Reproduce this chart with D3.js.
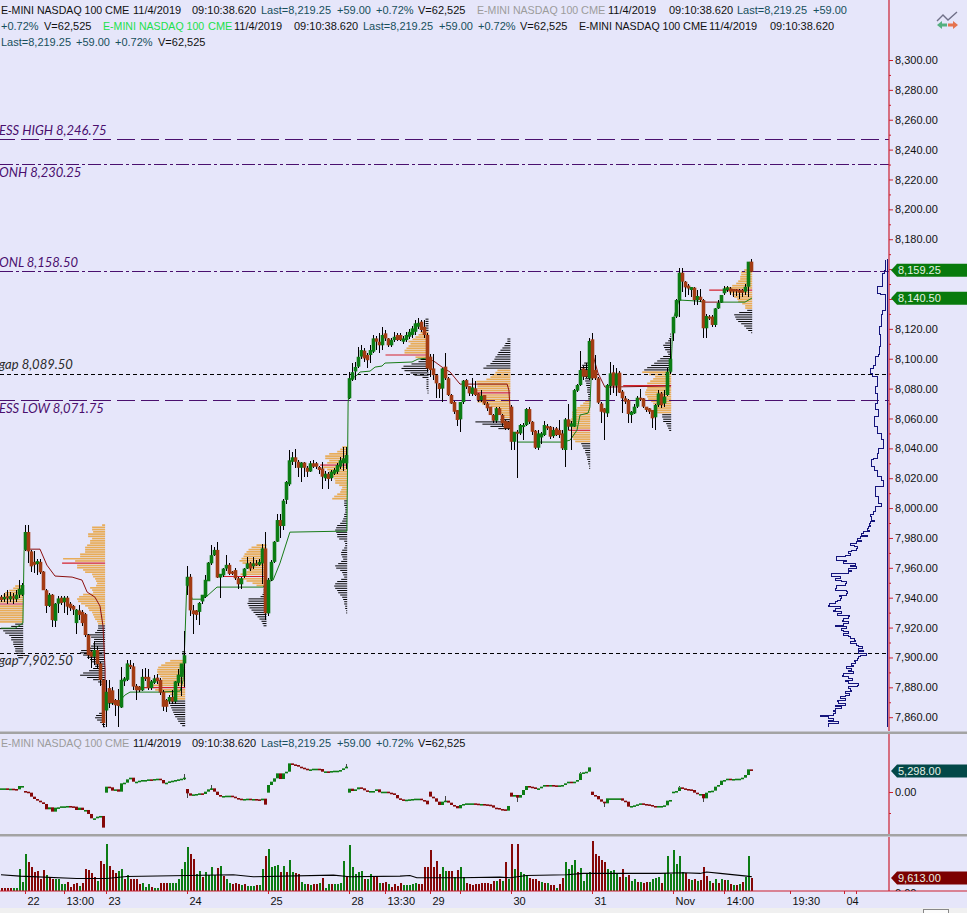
<!DOCTYPE html>
<html><head><meta charset="utf-8">
<script src="https://cdn.jsdelivr.net/npm/d3@7/dist/d3.min.js"></script>
<style>html,body{margin:0;padding:0;background:#e6e6fa;overflow:hidden}svg{display:block}
text{font-family:"Liberation Sans",Arial,sans-serif;font-size:11px}</style></head><body><svg id="c" width="967" height="913"></svg>
<script>
const opens=[7940.5,7939,7941,7939,7941,7939,7942,7942,
7972,7984,7971,7964,7962.5,7964,7957.5,7945,7934.5,7942,7924.5,7936,7940,7937,7940,7936,7934.5,7923,7931.5,7930.5,7929,7915,7904,7900.5,7905,7896,7885,
7864.5,7879.5,7878,7871.5,7871.5,7866.5,7884,7885,7895,7894,7881,7880.5,7878,7887,7887,7879.5,7883,7886.5,7885,7877,7871.5,7870.5,7873.5,7870.5,7883,7887,7896,
7948,7954,7931.5,7931.5,7930.5,7937.5,7940.5,7951,7963,7968.5,7972,7953.5,7955,7959.5,7962,7957.5,7958.5,7953,7949,7954.5,7959.5,7963,7961,7963,7962,7963,7973,
7929.5,7952,7964,7977.5,7992,7988,8005.5,8015.9,8031,8034,8031,8027,8030.5,8027,8024.5,8030,8030,8027.5,8026.5,8020,8023,8020,8023,8024.3,8027.7,8030,8030,
8073.5,8086,8091.5,8094.7,8101.4,8105.4,8102.5,8102.5,8104.7,8113.6,8111.4,8109,8117,8113.6,8109,8112.5,8115.9,8115.9,8111.4,8112.5,8114.7,8115.9,8118,8121.4,8124.8,8121.4,8115.9,
8101.4,8093.5,8089,8083.5,8080,8094.7,8086.9,8075.7,8071,8065.6,8059.4,8071,8085.7,8081.7,8076.4,8080.2,8076.8,8072.3,8075.7,8070,8067.9,8062.3,8058.5,8066.8,8062.3,8058.5,8057.8,
8067.9,8044.4,8051.1,8050,8054.5,8055.6,8066.3,8057.8,8051.8,8040.4,8047.3,8048.9,8054.9,8054.5,8048.2,8053.4,8052.3,8050,8038.9,8059.4,8054.5,8054.5,8078.6,8082.4,8093.5,8092.4,8086.9,
8113,8092.5,8086.9,8070,8066.8,8063.4,8081.7,8090.9,8081.9,8090.7,8078,8073.5,8072.4,8062.3,8063.4,8067.9,8073.9,8073.5,8067.9,8066.8,8065.7,8060.8,8069,8076.8,8070,8075.7,8091.3,
8117,8128.2,8138.9,8157.6,8151.6,8149,8146,8147.6,8139.3,8141.5,8139.3,8120.4,8128.2,8128.2,8122.6,8133.7,8137.5,8143.8,8146,8147.1,8146.7,8146.5,8146,8146,8144.9,8148.2,8165];
const highs=[7942,7943,7945,7944,7943,7945,7952,7950,
7988.5,7988.5,7972,7971,7966,7966,7958,7945.5,7943,7942.5,7936.5,7941,7941,7941,7941,7937,7935,7932.5,7935,7932,7930,7915.5,7905,7911,7908,7897,7885.5,
7885,7885,7880,7872,7879,7893.5,7887,7898.5,7898.5,7896,7882,7881,7892.5,7893,7892,7885,7888,7889,7886,7878,7872,7875,7878,7884,7892,7892,7918,
7961,7956,7935,7932,7937,7942,7955,7964,7975,7974,7977.5,7956,7960,7968.5,7963,7958,7960,7954,7954,7960,7967.5,7964,7967.5,7965,7966,7976,7984,
7953,7965,7978,7996,7996,8006,8018,8039,8037.5,8039.5,8032,8031,8031,8028,8031.5,8032,8031,8028,8031,8025,8024,8025.5,8027,8030,8034,8041,8041,
8091,8097,8098,8108,8109,8107,8104,8109,8116,8115,8117,8121,8119,8114,8114,8118,8117,8117,8115,8118,8120,8122,8126,8127,8126,8126,8117,
8103,8103,8090,8084,8093.5,8103.5,8088,8076.5,8072,8066,8071,8086,8086.5,8082,8087,8085,8077,8079,8076,8071,8068,8063,8067.9,8068,8063,8059,8058,
8069,8051,8052,8056,8057,8067,8068,8058,8052,8052,8051,8058,8056,8055,8054,8054,8059,8052,8060,8070,8058,8080,8083,8105,8095,8097,8114,
8117,8102.5,8087.5,8071,8067,8083,8098,8095.8,8094,8092,8079,8075,8073,8065,8070,8075,8080,8074,8068,8067,8066,8070,8079,8077.5,8079,8094,8113,
8128,8139.8,8161,8161,8152,8150,8148,8148,8146,8146.5,8140,8130,8129,8129,8134,8139,8143,8149,8148.5,8148,8147,8147,8147,8147,8150,8165,8167];
const lows=[7937,7937,7936,7937,7936,7937,7939.5,7941,
7971,7963,7957.5,7956.5,7955,7956,7945,7929.5,7934,7920.5,7920.5,7929.5,7935,7929.5,7928.5,7931,7928.5,7916,7925,7921,7914,7899,7893,7895,7893,7881,7853.5,
7853.5,7866,7868,7860.5,7853.5,7866,7881,7884,7892,7878.5,7871.5,7877,7877.5,7884,7878,7878,7882,7882,7875,7864,7863.5,7869,7869,7869,7881,7874,7880,
7942,7928,7916,7925,7921.5,7936,7940,7951,7962,7968,7953,7939.5,7954,7958,7955,7955,7952,7946,7946,7953,7959,7958,7959.5,7961,7961,7949.5,7925,
7928,7951,7963,7977,7980,7985,8003,8015,8029,8027,8021,8017.5,8021,8021,8024,8027,8026,8023,8013,8018,8013,8018,8022,8023,8026,8025,8026,
8073,8085,8085.5,8094,8100,8098,8094,8097,8104,8106,8103.5,8106,8112,8108,8108,8111.5,8112,8112,8110,8111,8113,8114,8116,8120,8118,8114,8091,
8088,8086,8073.5,8073.5,8071,8086,8075,8069.5,8063,8055,8051,8070,8080,8075,8075,8075,8071,8071,8069,8065,8062,8057,8057,8062,8055,8052,8052,
8038.8,8039,8020,8049,8045.5,8055,8056,8049,8039.5,8039,8043,8048,8052,8046,8047,8048,8047,8039,8027.7,8052,8038.9,8054,8078,8082,8086,8087,8086,
8086,8086,8070,8056.7,8045.6,8061,8075.7,8077,8075,8077,8063.4,8070,8056.7,8056.7,8063,8067,8072,8067,8064,8063,8053.4,8052.3,8068,8067,8068,8075,8090,
8112,8127,8128,8145,8141.6,8142.5,8141,8136,8136,8138,8113.6,8113.6,8126,8121,8121,8133,8137,8143,8145,8143,8141,8142,8140,8141.5,8143,8141.5,8158];
const closes=[7938.5,7940.5,7939.5,7941,7939.5,7942,7946,7948.5,
7984,7971,7961,7962,7964.5,7957,7945,7934.5,7942,7925,7936,7939.5,7936.5,7940,7934,7933,7932,7932,7928.5,7923,7915,7901.5,7900.5,7905,7895.5,7885,7856,
7877,7869.5,7869.5,7868,7867.5,7885,7886,7896,7894,7880.5,7878,7878,7887,7886,7879.5,7884,7886,7884,7876.5,7867,7867,7873.5,7870.5,7884,7888.5,7896,7901.5,
7954,7931.5,7929,7928.5,7936.5,7942,7952,7963.5,7968.5,7972,7953.5,7956,7959.5,7962,7956,7956,7953,7949,7953,7959.5,7963,7959.5,7963,7962,7964,7973,7929.5,
7952,7964,7977.5,7992,7988,8005,8017.5,8032,8034,8031,8027,8030.5,8027,8024.3,8030,8027.7,8027.7,8025.5,8021,8023,8019.5,8024.3,8025.5,8028.8,8032,8033.3,8035.5,
8087,8091,8094.5,8101.3,8105.8,8100.2,8099,8105.8,8113.6,8111.4,8109,8115.9,8113.6,8109,8112.5,8114.7,8112.5,8112.5,8113.6,8115.9,8118,8120.3,8123.7,8124,8119.2,8115.9,8093.5,
8092.4,8089,8083.5,8079.7,8093.5,8086.9,8075.7,8070,8064.5,8059,8071,8085.3,8081.3,8076.8,8080.8,8075.7,8072.3,8075.2,8070,8066.8,8062.3,8058.5,8066.8,8062.3,8056.7,8053.4,8053.4,
8044.4,8051.1,8050,8055.6,8055.6,8066.3,8057.8,8051.1,8040.4,8050,8050,8055.6,8053.4,8047.8,8052.3,8048.9,8048.9,8040,8059.4,8054.5,8056.7,8079,8082.4,8092.4,8088,8088,8111.9,
8086.9,8086.9,8070.6,8064.5,8063.9,8082.4,8090.2,8081.9,8090.2,8077.3,8073.5,8071.2,8063,8064.5,8067.9,8073.9,8073.5,8067.9,8065.7,8064.5,8060.1,8069,8076.8,8069,8074.6,8091.3,8100,
8128,8139.3,8157.6,8151.6,8147.8,8147,8148,8139.3,8142,8139.3,8120.4,8128.6,8127,8122.6,8133.7,8137.5,8142.7,8147.1,8147.8,8144.9,8144.9,8145,8144.2,8144.2,8148.2,8165,8158.3];

// delta pane: closes; each session's first bar opens at the listed value
const deltaCloses=[924,924,840,840,756,672,1512,1512,
84,-168,-1176,-1764,-2184,-2604,-3024,-4368,-3864,-4956,-3948,-3864,-3612,-3612,-3528,-3612,-3696,-4536,-3948,-4536,-4536,-5544,-6636,-6636,-6216,-6048,-8988,
1344,1176,336,672,84,2184,2352,3192,3612,2604,2604,2856,3024,3024,3192,3108,3276,3360,3024,2184,2352,2688,2856,3024,3192,3360,3612,
-336,-924,-588,-504,-336,-504,84,672,924,84,-756,-1176,-1008,-924,-924,-1176,-1512,-1680,-1932,-1764,-1680,-1764,-1764,-1848,-2100,-1680,-3192,
1764,2604,3444,4704,3276,4704,5124,7224,6972,6804,6384,6132,5880,5544,5712,5880,5880,5796,5124,5208,5124,5292,5376,5376,5544,5964,6384,
840,252,672,1176,924,420,252,252,252,672,-84,84,84,-168,-336,-756,-1596,-1848,-2016,-1932,-1848,-1764,-1680,-1680,-2016,-2184,-3108,
-1176,-1596,-2436,-3276,-2436,-2184,-2688,-3276,-3528,-4116,-3276,-3024,-2856,-2856,-2856,-2940,-3024,-3024,-3108,-3192,-3360,-3948,-4032,-4284,-4368,-4704,-3528,
-1176,-756,-1428,-756,504,1512,1344,1176,756,924,1344,1764,1680,1764,1680,1512,1680,1764,2184,2604,2352,2604,3024,4704,4956,5124,6216,
-756,-1008,-1848,-2436,-2856,-1596,-1596,-1596,-1596,-1596,-2184,-2436,-3696,-3528,-3360,-3108,-2856,-3024,-3108,-3276,-3528,-3864,-3528,-3528,-3360,-2184,-2016,
84,252,1176,924,756,672,504,-168,-504,-504,-1596,-168,252,336,1344,1764,2856,3024,3360,3276,3276,3360,3360,3612,4284,5712,5376];
const sessionBars=[0,8,35,62,89,116,143,170,197,224];
const sessionDeltaOpens=[924,252,-168,756,-168,-168,84,-168,84,-84];
const deltaWickBars=[61,62,70,115,148,172,193,201,226,234];
const deltaWickHighs=[4536,-336,1764,7056,-1008,-756,5124,-2856,1512,-504];
const deltaWickLows=[3000,-1596,500,6384,-2184,-2436,4704,-3864,1176,-2436];

// volume (thousands) and up/down flag of each volume bar
const volumes=[2,2,2,2,2.5,2.5,16.25,7,
27,21.25,18,13.75,15,8.75,15.5,12,10,8.75,8.75,8.75,5.5,5.5,7,3,5,6.25,3.75,6.25,16.25,15.5,13,10.5,7.5,22,20,
35,18.75,15.5,13,14.5,16.25,8.75,12,8.75,8.75,8.75,5.5,6.25,3,5,3,2.5,2,6.25,6.25,6.25,6.25,6.25,6.25,8.75,16.25,21.25,
32.5,27,23.75,12.5,15,10,13.75,12,17.5,12,17,18.75,11.25,8.75,6.25,5,6.25,5.5,4.5,5,3.75,3.75,3.75,4.5,4.5,16.25,26.25,
31.25,17.5,18.75,19.5,13.75,18.75,13.75,23,13.75,13,12.5,7,5.5,5.5,4.5,5,5,6.25,9.5,2.5,5.5,5.5,5,5.5,6.25,22,10,
33.75,17.5,12.5,13.75,14.5,8.75,8.75,12.5,11.25,10,6.25,6.25,7,5,3,5,3.75,6.25,4.5,4.5,4.5,5,6.25,5,5,17.5,18,
30,18,22,12.5,17.5,15,14.5,15,10,15.5,17.5,10,6.25,5,4.5,5,5.5,6.25,6.25,6.25,5.5,7.5,7.5,8.75,7.5,21.25,8.75,
35,16.25,34.5,13.75,12.5,12,9.5,8.75,8.75,7.5,7,6.25,6.25,4.5,4.5,2.5,5,9.5,21.25,16.25,19.5,23,13.75,17,7.5,12.5,13.75,
37,27,26.25,23,21.25,16.25,15,15.5,13,10,16.25,10.5,12,7.5,8.75,7,7,6.25,7,7,8.75,9.5,10,6.25,13,26.25,12.5,
30,20,26.25,13.75,13,8.75,8,8.75,7.5,8,17.5,11.25,7.5,6.25,8.75,6.25,8.75,8,8,5.5,4.5,4.5,5,7,10,25.75,9.613];
const volumeDirs="rrrrgggg"+"grrrrrrgrrggggrrrrgrrrrrgrr"+"grrrggrgrrrrgggrggrrrgggggg"+"grrggrggggrgrggrrrgrgggrggr"+"ggggrgrggrrggrgrrgrggrggggr"+"gggggrggrrgrrgrrrrgggggrrrr"+"rrrrggrrgrgg"+"rrrrrrrrrr"+"grgrg"+"rgrgggrrrrgrgrrgrrggggrgggg"+"rrrrrggggrrgrggrgrrggggrggg"+"ggggrrgrgrrrgrgrgrgrgrgrggr";
// volume moving average
const maBars=[0,6.3,25.2,35.2,41.9,77.4,84.1,110.8,116.3,133,136.3,138.6,153,166.3,169.7,175.2,188.6,194.1,219.7,227.4,233,235.2,239.7,248.6,250.3];
const maValues=[12,11,9.25,9.25,10.75,12,10.5,11.75,10.5,11,11.5,9.75,9.75,10.25,9.75,11.5,12,13,13,13.5,13,14,13,11,10.5];

// session value lines
const vwapColors=["g","r","g","g","g","r","g","r","g","r","g"];
const vwapBars=[[0,4.7,7.3,7.7],
[8,9.7,13,15.3,18,23.7,27,28.7,31.3,33,34,34.7,34.7],
[35.7,39,41.3,43,53,59.7,60.7,61.3,62],
[62,63.7,67,69,72,87.3,88.7,90.7,93,96.3,115.3,115.7],
[115.7,116.3,118.7,119.7,123,124.7,127,128,137,139,142],
[142.3,144.7,147,149.7,153,168.7,169.3,169.7,170.3],
[172,187.3,189.7,192,193,195.7,196.3,197],
[197.3,199,201.3,222,223,223.3],
[223.3,224,226,232.3,234],
[234,238.7,239.7],
[239.7,248,250.3]];
const vwapPrices=[[7919.6,7919.6,7923,7971.9],
[7971.9,7972.5,7972.5,7961.8,7954.5,7953.8,7951.8,7943.8,7940.4,7934.4,7921,7891.5,7866],
[7869.4,7869.4,7874.8,7876.8,7876.8,7877.5,7884.8,7911.6,7953.8],
[7953.8,7939,7939,7941.7,7947.1,7947.1,7950.4,7951.8,7963.2,7983.9,7984.6,8070.3],
[8070.3,8085.7,8089.1,8091.1,8091.7,8094.4,8095.1,8097.1,8097.8,8099.8,8100.4],
[8100.4,8097.8,8094.4,8091.1,8083,8083,8079,8065.6,8045.5],
[8044.2,8044.2,8045.5,8052.2,8062.3,8063.6,8067.6,8101.1],
[8102.5,8090.4,8081,8081.7,8081.7,8081.7],
[8090.4,8125.9,8139.3,8138.6,8137.9],
[8137.9,8137.9,8137.9],
[8137.9,8137.9,8140.6]];

// session volume profiles: right-edge bar, top price, row volumes, value-area rows
const profileEnds=[7.4,34.7,61.4,88.5,115.4,142.5,169.8,196.4,223.4,250.4];
const profileTops=[7947.8,7988.6,7903.8,7975.2,8040.8,8126.5,8113.2,8097.1,8116.5,8159.4];
const profileVaFrom=[0,0,4,0,0,6,14,17,17,0];
const profileVaTo=[17,45,22,19,24,18,36,36,36,18];
const profileRows=[
[8,10,14,18,20,24,26,28,36,32,34,32,30,30,28,26,24,8,12,24,20,18,14,12,12,10,10,9,8,8,7,6,5],
[3,13,13,12,17,17,13,15,15,18,20,20,20,25,25,42,30,43,28,28,22,20,13,12,10,9,8,9,15,13,12,22,26,28,27,24,20,17,16,13,12,11,10,8,7,
7,7,8,10,18,14,11,10,12,14,17,24,25,22,18,15,13,11,10,12,16,22,25,18,12,7,4,3,2,2,2,2,2,2,2,2,2,2,3,6,9,10,8,5,3,2],
[3,3,2,2,15,20,24,27,28,28,27,25,23,25,28,32,47,30,22,15,13,12,14,15,15,14,13,12,11,10,8,7,5,3],
[10,15,18,20,22,23,25,27,24,20,18,18,20,26,43,24,20,14,10,3,3,3,4,6,18,18,19,18,17,15,13,11,9,7,5,4,3],
[5,7,10,18,22,22,18,20,27,24,20,18,16,15,13,12,12,8,5,6,7,10,13,15,
3,3,3,2,2,2,3,3,4,5,7,10,11,12,11,10,10,8,3,2,2,3,5,6,6,5,4,6,9,12,11,7,5,4,3,6,10,12,13,12,10,9,7,5,4,3,3,2,2,1,1],
[3,3,3,3,3,3,8,10,13,16,20,18,20,22,24,24,43,13,8,10,17,25,27,24,18,14,6,2,2,2,2,2,1,1],
[3,3,5,6,8,10,12,13,15,16,18,20,24,27,13,15,18,20,24,34,33,33,33,34,37,32,30,31,33,28,20,16,13,10,8,7,10,35,28,20,12],
[6,8,10,10,8,7,6,5,5,4,4,3,3,3,2,2,2,5,7,10,13,15,18,18,18,19,20,20,19,18,22,18,18,18,17,15,9,8,7,5,5,4,3,3,2,2,1,1],
[1,1,2,3,6,8,7,6,4,3,8,11,14,17,20,24,27,29,22,16,18,21,24,48,24,25,26,26,24,23,20,18,17,16,15,14,9,9,8,8,5,4,3,2],
[8,11,11,12,12,14,16,20,28,43,23,20,18,15,14,10,7,7,5,13,18,17,16,14,11,8,6,4,1]];

// composite profile at the right (upper part read level by level, lower part on a 1.116 point grid)
const ltPrices=[8166,8159.4,8157.2,8148.3,8146.5,8143.8,8142.7,8137,8132.6,8129.3,8121.5,8115.9,8108,8102.5,8101.4,8095.8,8093.6,8090.2,8088,8085.8,8081.3,8076.8,8070.1,8065.7,8061.2,8054.5,8050,8045.6,8040,8036.6,8033.3,8032.2,8027.7,8025.5,8021,8018.8,8014.3,8007.6,8003.2,8001,7997.6,7995.4,7994.2];
const ltVolumes=[1.7,2,3,4.3,9.3,9.3,6.3,2,1.7,4.3,5.3,7.7,7,7.7,8.7,12,13.7,16.3,14.3,9.3,9.7,11.3,9.7,12,8.7,12.7,9.3,6,3.7,8.7,9.3,13.7,15.3,12.7,9.7,5.3,3.7,12,8.7,5.3,12,13.7,17];
const ltLowerTop=7992, ltLowerStep=1.116;
const ltLowerVolumes=[15.3,12.7,17,17.7,16.3,18.7,19.7,17.7,23.7,25.3,19.7,27,29.7,25.3,31,37,33,29.7,31,35.3,38.7,37,42,50.3,50.3,40.3,43.7,32,37,30.3,38.7,35.3,38.7,55.3,55.3,47,52,45.3,40.3,42,51,50.3,52,40.3,39.3,40.3,47.7,45.3,47,49.7,52,57.7,58.7,47,52,53.7,45.3,49.7,37.7,38.7,43.7,44.3,38.7,43.7,52,40.3,45.3,43.7,38.7,43.7,38.7,37,33,32,37,30.3,28.7,24.3,28.7,23.7,28.7,21,27,28.7,29.7,33,32,35.3,33.7,40.3,35.3,38.7,33.7,43.7,44.7,38.7,34.3,42,38.7,28.7,29.7,38.7,37,35.3,42,37.7,42,47,42,49.7,48.7,42,52,45.3,52,53.7,52,53.7,66.3,58.7,53.7,58.7,48.7,58.7,58.7];

const refTexts=["ESS HIGH 8,246.75","ONH 8,230.25","ONL 8,158.50","gap 8,089.50","ESS LOW 8,071.75","gap 7,902.50"];
const refValues=[8246.75,8230.25,8158.5,8089.5,8071.75,7902.5];
const refKinds=["dash","dashdot","dashdot","dot","dash","dot"];
const priceTicks=d3.range(7860,8301,20);
const priceMinor=d3.range(7870,8300,20);
const timeTickBars=[8,21,35,62,89,116,128,143,153,170,197,224,241,263,281,285];
const timeTickLabels=["22","13:00","23","24","25","28","13:30","29","","30","31","Nov","14:00","19:30","04",""];
const tagValues=[8159.25,8140.5];
const deltaLast=5298, volumeLast=9.613;

const BG="#e6e6fa",GREEN="#0c7c14",RED="#a33c14",MAROON="#850808",RED_AXIS="#cc1f2f",PURPLE="#4a0f6e",
  ORANGE="#e8ac58",NAVY="#14147c";
const x=d3.scaleLinear().domain([0,250]).range([1,751]);
const y=d3.scaleLinear().domain([7860,8300]).range([717.2,60]);
const yD=d3.scaleLinear().domain([0,5298]).range([792,771]);
const yV=d3.scaleLinear().domain([0,9.613]).range([891,878]);
const wP=d3.scaleLinear().domain([0,50]).range([0,50]);
const xLt=d3.scaleLinear().domain([0,60]).range([887,827]);
const svg=d3.select("#c");
svg.append("rect").attr("width",967).attr("height",913).attr("fill",BG);
const defs=svg.append("defs");
defs.append("clipPath").attr("id","main").append("rect").attr("width",967).attr("height",732);
defs.append("clipPath").attr("id","vc").append("rect").attr("y",837).attr("width",967).attr("height",54);
const main=svg.append("g").attr("clip-path","url(#main)");
const n=closes.length, idx=d3.range(n);

// profiles
profileRows.forEach((rows,p)=>{
  const maxI=d3.range(profileVaFrom[p],profileVaTo[p]).reduce((a,b)=>rows[b]>rows[a]?b:a,profileVaFrom[p]);
  const g=main.append("g");
  const inVa=i=>i>=profileVaFrom[p]&&i<profileVaTo[p];
  g.selectAll("line").data(rows).join("line")
   .attr("x1",(d)=>x(profileEnds[p])-wP(d)).attr("x2",x(profileEnds[p]))
   .attr("y1",(d,i)=>y(profileTops[p]-1.5*i)).attr("y2",(d,i)=>y(profileTops[p]-1.5*i))
   .attr("stroke",(d,i)=>i===maxI?"#d4202c":(inVa(i)?ORANGE:"#000"))
   .attr("stroke-width",(d,i)=>i===maxI?1.2:(inVa(i)?1.7:1));
});
// reference lines
const dashes={dash:"18 6",dashdot:"13 3 3 3",dot:"4 3"};
const refDy=[-5,13,-4,-5,12,11];
refValues.forEach((v,i)=>{
  main.append("line").attr("x1",0).attr("x2",889).attr("y1",y(v)).attr("y2",y(v)).attr("shape-rendering","crispEdges")
   .attr("stroke",refKinds[i]==="dot"?"#000":PURPLE).attr("stroke-width",1)
   .attr("stroke-dasharray",dashes[refKinds[i]]).attr("stroke-dashoffset",refKinds[i]==="dash"?3:0);
  main.append("text").attr("x",-1).attr("y",y(v)+refDy[i]).text(refTexts[i])
   .attr("fill",refKinds[i]==="dot"?"#2a2a2a":PURPLE).attr("font-style","italic")
   .style("font-family","Lato,'Open Sans',sans-serif").style("font-size","13px");
});
// composite profile
main.append("line").attr("x1",887).attr("x2",887).attr("y1",y(8167)).attr("y2",727).attr("stroke",NAVY).attr("stroke-width",1).attr("shape-rendering","crispEdges");
const ltAllP=ltPrices.concat(ltLowerVolumes.map((d,i)=>ltLowerTop-ltLowerStep*i));
const ltAllV=ltVolumes.concat(ltLowerVolumes);
main.append("path").attr("fill","none").attr("stroke",NAVY).attr("stroke-width",1).attr("shape-rendering","crispEdges")
 .attr("d",d3.line().x((d,i)=>xLt(ltAllV[i])).y(d=>y(d)).curve(d3.curveStepAfter)(ltAllP));
// value lines
vwapBars.forEach((b,s)=>{
  main.append("path").attr("fill","none").attr("stroke",vwapColors[s]==="g"?"#187c18":"#8c1010").attr("stroke-width",1)
   .attr("d",d3.line().x(d=>x(d)).y((d,i)=>y(vwapPrices[s][i]))(b));
});
// candles
const cg=main.append("g");
cg.selectAll(".w").data(idx).join("line").attr("class","w").attr("shape-rendering","crispEdges")
 .attr("x1",i=>x(i)+.5).attr("x2",i=>x(i)+.5).attr("y1",i=>y(highs[i])).attr("y2",i=>y(lows[i])).attr("stroke","#000");
cg.selectAll(".b").data(idx).join("rect").attr("class","b")
 .attr("x",i=>x(i)-1.3).attr("width",3.6)
 .attr("y",i=>y(Math.max(opens[i],closes[i])))
 .attr("height",i=>Math.max(2,Math.abs(y(opens[i])-y(closes[i]))))
 .attr("fill",i=>closes[i]>=opens[i]?GREEN:RED);

// delta pane
const deltaOpens=idx.map(i=>{const s=sessionBars.indexOf(i);return s>=0?sessionDeltaOpens[s]:deltaCloses[i-1];});
const dg=svg.append("g");
dg.selectAll(".w").data(deltaWickBars).join("line").attr("class","w").attr("shape-rendering","crispEdges")
 .attr("x1",d=>x(d)+.5).attr("x2",d=>x(d)+.5)
 .attr("y1",(d,i)=>yD(deltaWickHighs[i])).attr("y2",(d,i)=>yD(deltaWickLows[i])).attr("stroke","#444");
dg.selectAll(".b").data(idx).join("rect").attr("class","b")
 .attr("x",i=>x(i)-1).attr("width",3)
 .attr("y",i=>yD(Math.max(deltaOpens[i],deltaCloses[i])))
 .attr("height",i=>Math.max(1.6,Math.abs(yD(deltaOpens[i])-yD(deltaCloses[i]))))
 .attr("fill",i=>deltaCloses[i]>=deltaOpens[i]?GREEN:MAROON);

// volume pane
const vg=svg.append("g").attr("shape-rendering","crispEdges");
vg.selectAll("rect").data(idx).join("rect")
 .attr("x",i=>x(i)-.5).attr("width",2)
 .attr("y",i=>yV(volumes[i])).attr("height",i=>Math.max(0,891-yV(volumes[i])))
 .attr("fill",i=>volumeDirs[i]==="r"?MAROON:GREEN);
svg.append("path").attr("fill","none").attr("stroke","#000").attr("stroke-width",1.1)
 .attr("d",d3.line().x(d=>x(d)).y((d,i)=>yV(maValues[i]))(maBars));

// separators
[732.5,835].forEach(v=>svg.append("rect").attr("x",0).attr("y",v-1).attr("width",967).attr("height",2.5).attr("fill","#a3a3a3"));
// axes
[[0,731],[734,834],[837,891]].forEach(([a,b])=>svg.append("line").attr("x1",889).attr("x2",889).attr("y1",a).attr("y2",b).attr("stroke",RED_AXIS).attr("stroke-width",1.2));
svg.append("line").attr("x1",0).attr("x2",967).attr("y1",891).attr("y2",891).attr("stroke",RED_AXIS).attr("stroke-width",1.2);
function styleAxis(g){g.select(".domain").remove();g.selectAll("line").attr("stroke",RED_AXIS).attr("stroke-width",1);
  g.selectAll("text").attr("fill","#111").style("font-family","'Liberation Sans',Arial,sans-serif").style("font-size","11px");}
const fmt=d3.format(",.2f");
svg.append("g").attr("transform","translate(889,0)").call(d3.axisRight(y).tickValues(priceTicks).tickSize(4).tickPadding(2).tickFormat(v=>(v===8160||v===8140)?"":fmt(v))).call(styleAxis);
svg.append("g").attr("transform","translate(889,0)").call(d3.axisRight(y).tickValues(priceMinor).tickSize(2).tickFormat("")).call(styleAxis);
svg.append("g").attr("transform","translate(889,0)").call(d3.axisRight(yD).tickValues([0]).tickSize(4).tickPadding(2).tickFormat(fmt)).call(styleAxis);
svg.append("g").attr("transform","translate(889,0)").call(d3.axisRight(yD).tickValues([-5298]).tickSize(2).tickFormat("")).call(styleAxis);
svg.append("g").attr("clip-path","url(#vc)").append("text").attr("x",895).attr("y",897).text("0.00").attr("fill","#111");
const xa=svg.append("g").attr("transform","translate(0,891)").call(d3.axisBottom(x).tickValues(timeTickBars).tickSize(3).tickPadding(4).tickFormat((d,i)=>timeTickLabels[i]));
styleAxis(xa);xa.selectAll("text").attr("text-anchor","start").attr("dx",2).attr("y",6);
// tags
function tag(v,scale,fill,label){const c=scale(v);
  svg.append("path").attr("d",`M891,${c}L897,${c-6.5}H967V${c+6.5}H897Z`).attr("fill",fill);
  svg.append("text").attr("x",898).attr("y",c+4).text(label).attr("fill","#e6f2e6");}
tagValues.forEach(v=>tag(v,y,"#087a0c",fmt(v)));
tag(deltaLast,yD,"#034848",fmt(deltaLast));
tag(volumeLast,yV,"#7c0000","9,613.00");

// header texts
const DK="#111",TL="#17505c",GY="#9c9c9c",BR="#22e04a";
const hdr=[
 [10,1,"E-MINI NASDAQ 100",DK],[10,105,"CME",DK],[10,133,"11/4/2019",DK],[10,192,"09:10:38.620",DK],[10,261,"Last=8,219.25",TL],[10,337,"+59.00",TL],[10,376,"+0.72%",TL],[10,418,"V=62,525",DK],
 [10,477,"E-MINI NASDAQ 100",GY],[10,581,"CME",GY],[10,608,"11/4/2019",DK],[10,669,"09:10:38.620",DK],[10,737,"Last=8,219.25",TL],[10,813,"+59.00",TL],
 [26,1,"+0.72%",TL],[26,44,"V=62,525",DK],[26,103,"E-MINI NASDAQ 100",BR],[26,208,"CME",BR],[26,234,"11/4/2019",DK],[26,294,"09:10:38.620",DK],[26,363,"Last=8,219.25",TL],[26,439,"+59.00",TL],[26,478,"+0.72%",TL],[26,520,"V=62,525",DK],
 [26,579,"E-MINI NASDAQ 100",DK],[26,683,"CME",DK],[26,709,"11/4/2019",DK],[26,770,"09:10:38.620",DK],
 [42,1,"Last=8,219.25",TL],[42,76,"+59.00",TL],[42,115,"+0.72%",TL],[42,158,"V=62,525",DK],
 [743,1,"E-MINI NASDAQ 100",GY],[743,105,"CME",GY],[743,133,"11/4/2019",DK],[743,192,"09:10:38.620",DK],[743,261,"Last=8,219.25",TL],[743,337,"+59.00",TL],[743,376,"+0.72%",TL],[743,418,"V=62,525",DK]];
svg.selectAll(".h").data(hdr).join("text").attr("class","h")
 .attr("x",d=>d[1]).attr("y",d=>d[0]+4).text(d=>d[2]).attr("fill",d=>d[3])
 .style("font-size",d=>d[2].startsWith("E-MINI")?"10.6px":null);

// bottom strip and icon
svg.append("rect").attr("x",0).attr("y",908).attr("width",967).attr("height",5).attr("fill","#f0f0f0");
svg.append("rect").attr("x",923.5).attr("y",909.5).attr("width",25).attr("height",6).attr("fill","#fbfbfb").attr("stroke","#888");
svg.append("path").attr("d","M937,21L943,15L948,20L957,12").attr("fill","none").attr("stroke","#707088").attr("stroke-width",1.4);
svg.append("path").attr("d","M937,25L942,21V23.5H947V26.5H942V29Z").attr("fill","#55b080");
svg.append("path").attr("d","M958,25L953,21V23.5H948V26.5H953V29Z").attr("fill","#e5734f");
</script></body></html>
